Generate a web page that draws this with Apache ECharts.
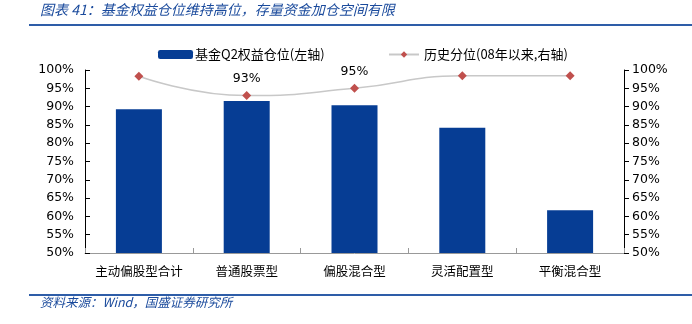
<!DOCTYPE html>
<html>
<head>
<meta charset="utf-8">
<script src="https://cdn.jsdelivr.net/npm/echarts@6/dist/echarts.min.js"></script>
<style>
  html, body { margin: 0; padding: 0; background: #fff; }
  #chart { width: 692px; height: 324px; }
</style>
</head>
<body>
<div id="chart"></div>
<script>
// Fund types on the category axis
const categories = ['主动偏股型合计', '普通股票型', '偏股混合型', '灵活配置型', '平衡混合型'];
// Q2 equity allocation of funds (%), left axis
const positionQ2 = [89.3, 91.5, 90.4, 84.2, 61.7];
// Historical percentile since 2008 (%), right axis
const percentile = [98.3, 93, 95, 98.4, 98.4];
// Which percentile points carry a value label
const labelledPoints = [false, true, true, false, false];
// Axis tick values
const axisMin = 50, axisMax = 100, axisStep = 5;

const blue = '#1A4A9C';
const barBlue = '#063D94';
const cjk = '"Noto Sans CJK SC", sans-serif';
const latin = 'Verdana, "DejaVu Sans", sans-serif';

const chart = echarts.init(document.getElementById('chart'));

chart.setOption({
  animation: false,
  backgroundColor: '#fff',
  grid: { left: 85, right: 68, top: 70, bottom: 71, containLabel: false },
  legend: [
    {
      data: ['基金Q2权益仓位(左轴)'],
      left: 153, top: 43,
      itemWidth: 35, itemHeight: 9, itemGap: 0,
      textStyle: { fontFamily: cjk, fontSize: 13, color: '#000', padding: [0, 0, 0, -3] }
    },
    {
      data: ['历史分位(08年以来,右轴)'],
      left: 383, top: 43,
      itemWidth: 30, itemHeight: 8,
      textStyle: { fontFamily: cjk, fontSize: 13, color: '#000' }
    }
  ],
  xAxis: {
    type: 'category',
    data: categories,
    axisLine: { lineStyle: { color: '#999', width: 1 } },
    axisTick: { show: true, length: 5, inside: true, lineStyle: { color: '#999' } },
    axisLabel: { interval: 0, fontFamily: cjk, fontSize: 12.5, color: '#000', margin: 12 }
  },
  yAxis: [
    {
      type: 'value', min: axisMin, max: axisMax, interval: axisStep,
      axisLine: { show: true, lineStyle: { color: '#000' } },
      axisTick: { show: true, length: 5, inside: true, lineStyle: { color: '#000' } },
      splitLine: { show: false },
      axisLabel: { formatter: '{value}%', fontFamily: latin, fontSize: 12.5, color: '#000', margin: 11 }
    },
    {
      type: 'value', min: axisMin, max: axisMax, interval: axisStep,
      position: 'right',
      axisLine: { show: true, lineStyle: { color: '#000' } },
      axisTick: { show: true, length: 5, lineStyle: { color: '#000' } },
      splitLine: { show: false },
      axisLabel: { formatter: '{value}%', fontFamily: latin, fontSize: 12.5, color: '#000', margin: 8 }
    }
  ],
  series: [
    {
      name: '基金Q2权益仓位(左轴)',
      type: 'bar',
      yAxisIndex: 0,
      data: positionQ2,
      barWidth: 46,
      itemStyle: { color: barBlue }
    },
    {
      name: '历史分位(08年以来,右轴)',
      type: 'line',
      yAxisIndex: 1,
      smooth: true,
      data: percentile.map((v, i) => ({
        value: v,
        label: {
          show: labelledPoints[i],
          position: 'top',
          distance: 6,
          formatter: p => Math.round(p.value) + '%',
          fontFamily: latin, fontSize: 12.5, color: '#000'
        }
      })),
      symbol: 'diamond',
      symbolSize: 9,
      lineStyle: { color: '#C8C8C8', width: 1.5 },
      itemStyle: { color: '#C0504D' }
    }
  ],
  graphic: [
    {
      type: 'text', left: 40, top: 3,
      style: {
        text: '图表 41：基金权益仓位维持高位，存量资金加仓空间有限',
        font: 'italic 14px "Noto Sans CJK SC", sans-serif',
        fill: blue
      }
    },
    {
      type: 'rect', shape: { x: 29, y: 24, width: 663, height: 2 },
      style: { fill: '#2E5DA8' }
    },
    {
      type: 'rect', shape: { x: 29, y: 294, width: 663, height: 2 },
      style: { fill: '#2E5DA8' }
    },
    {
      type: 'text', left: 40, top: 296,
      style: {
        text: '资料来源：Wind，国盛证券研究所',
        font: 'italic 12.5px "Noto Sans CJK SC", sans-serif',
        fill: blue
      }
    }
  ]
});
</script>
</body>
</html>
